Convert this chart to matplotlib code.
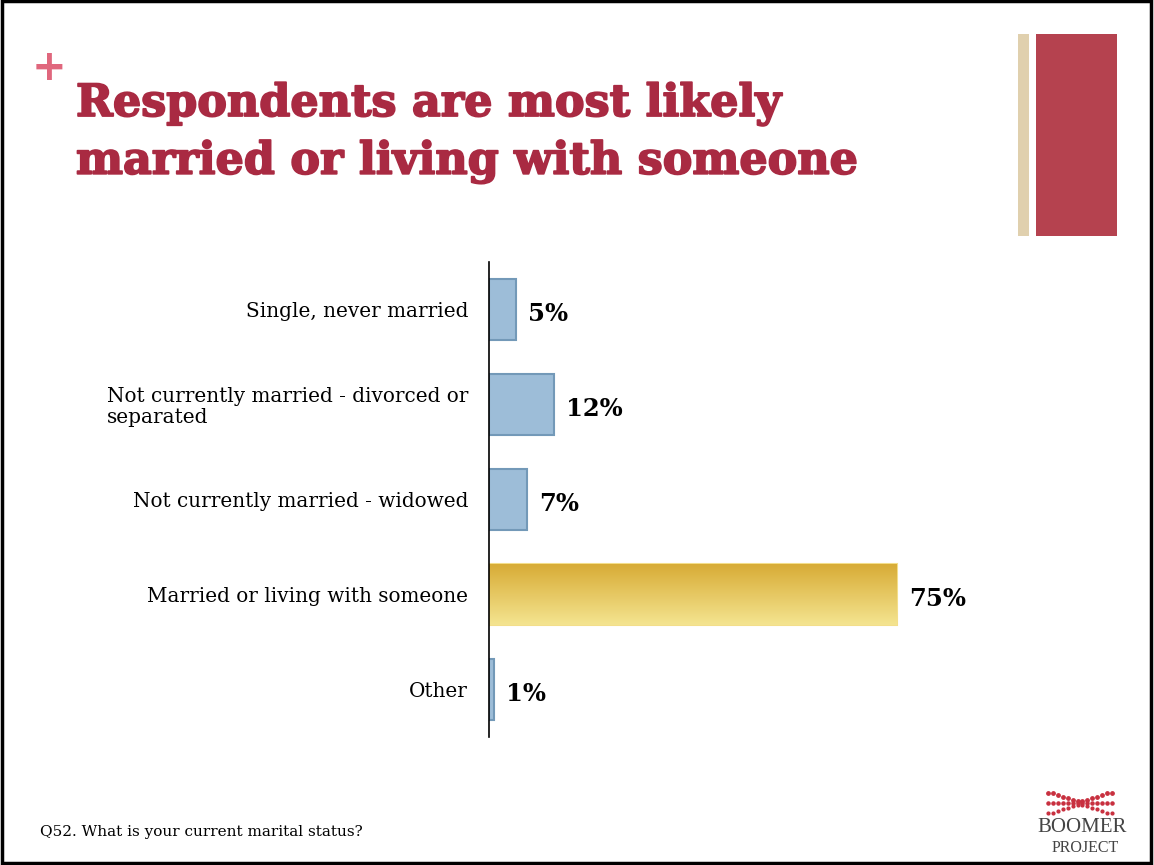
import numpy as np
import matplotlib.pyplot as plt
import matplotlib.patheffects as pe
from matplotlib.patches import Rectangle
from matplotlib.colors import LinearSegmentedColormap

# dados
categorias = ['Single, never married',
              'Not currently married - divorced or\nseparated',
              'Not currently married - widowed',
              'Married or living with someone',
              'Other']
valores = [5, 12, 7, 75, 1]
rotulos = ['5%', '12%', '7%', '75%', '1%']
destaque = 3  # barra dourada

titulo = 'Respondents are most likely\nmarried or living with someone'
nota = 'Q52. What is your current marital status?'

W, H = 1154, 865
fig = plt.figure(figsize=(W / 100, H / 100), dpi=100)
fig.patch.set_facecolor('white')

# moldura do slide
fig.add_artist(Rectangle((2 / W, 2 / H), (W - 5) / W, (H - 3) / H, transform=fig.transFigure,
                         fill=False, edgecolor='black', linewidth=2.5))

# decoração à direita
fig.add_artist(Rectangle((1018 / W, 1 - 236 / H), 11 / W, 202 / H, transform=fig.transFigure,
                         facecolor='#E0D0AE', edgecolor='none'))
fig.add_artist(Rectangle((1036 / W, 1 - 236 / H), 81 / W, 202 / H, transform=fig.transFigure,
                         facecolor='#B5424F', edgecolor='none'))

serif = 'DejaVu Serif'
fig.text(49 / W, 1 - 68 / H, '+', color='#E0677D', fontsize=30, fontweight='bold',
         family='DejaVu Sans', va='center', ha='center')
fig.text(76 / W, 1 - 82 / H, titulo, color='#A92A42', fontsize=32, fontweight='bold',
         family=serif, va='top', ha='left', linespacing=1.42,
         path_effects=[pe.withStroke(linewidth=1.3, foreground='#A92A42')])

fig.text(40 / W, 1 - 832 / H, nota, fontsize=11, family=serif, va='center', ha='left')

# eixo do gráfico
ax = fig.add_axes([489 / W, 1 - 737 / H, (1000 - 489) / W, 475 / H])
y = np.arange(len(valores))
cores = ['#9DBDD8'] * len(valores)
bordas = ['#7399B8'] * len(valores)
cores[destaque] = '#E6C55E'
bordas[destaque] = '#F3DE8A'
barras = ax.barh(y, valores, height=0.64, color=cores, edgecolor=bordas, linewidth=1.5)

# gradiente na barra destacada
b = barras[destaque]
grad = np.linspace(0, 1, 100).reshape(-1, 1)
cmap = LinearSegmentedColormap.from_list('ouro', ['#D8AC36', '#F4E490'])
im = ax.imshow(grad, cmap=cmap, aspect='auto',
               extent=[0, b.get_width(), b.get_y() + b.get_height(), b.get_y()],
               zorder=b.get_zorder() + 0.1)
im.set_clip_path(b)

ax.set_xlim(0, 94)
ax.set_ylim(len(valores) - 0.5, -0.5)
ax.set_yticks(y)
ax.set_yticklabels(categorias, fontsize=14.4, family=serif, linespacing=1.1,
                   multialignment='left')
ax.tick_params(axis='y', length=0, pad=15)
ax.set_xticks([])
for s in ['top', 'right', 'bottom']:
    ax.spines[s].set_visible(False)
ax.spines['left'].set_linewidth(1.2)

for yi, v, r in zip(y, valores, rotulos):
    ax.text(v + 2.2, yi + 0.05, r, fontsize=17.5, fontweight='bold', family=serif,
            va='center', ha='left')

# logotipo
lx = np.linspace(1048, 1112, 14)
ax_logo = fig.add_axes([0, 0, 1, 1], zorder=-1)
ax_logo.set_xlim(0, W)
ax_logo.set_ylim(H, 0)
ax_logo.axis('off')
for k, off in enumerate([0, 6, 12]):
    ax_logo.scatter(lx, 797 + off - 4 * np.cos((lx - 1048) / 64 * 2 * np.pi) * (1 - k),
                    s=6 - k, color='#C8303F')
ax_logo.text(1082, 828, 'BOOMER', fontsize=15, family='Liberation Serif', ha='center', va='center',
             color='#444444')
ax_logo.text(1085, 848, 'PROJECT', fontsize=11.5, family='Liberation Serif', ha='center', va='center',
             color='#444444')

fig.savefig('out.png', dpi=100)
